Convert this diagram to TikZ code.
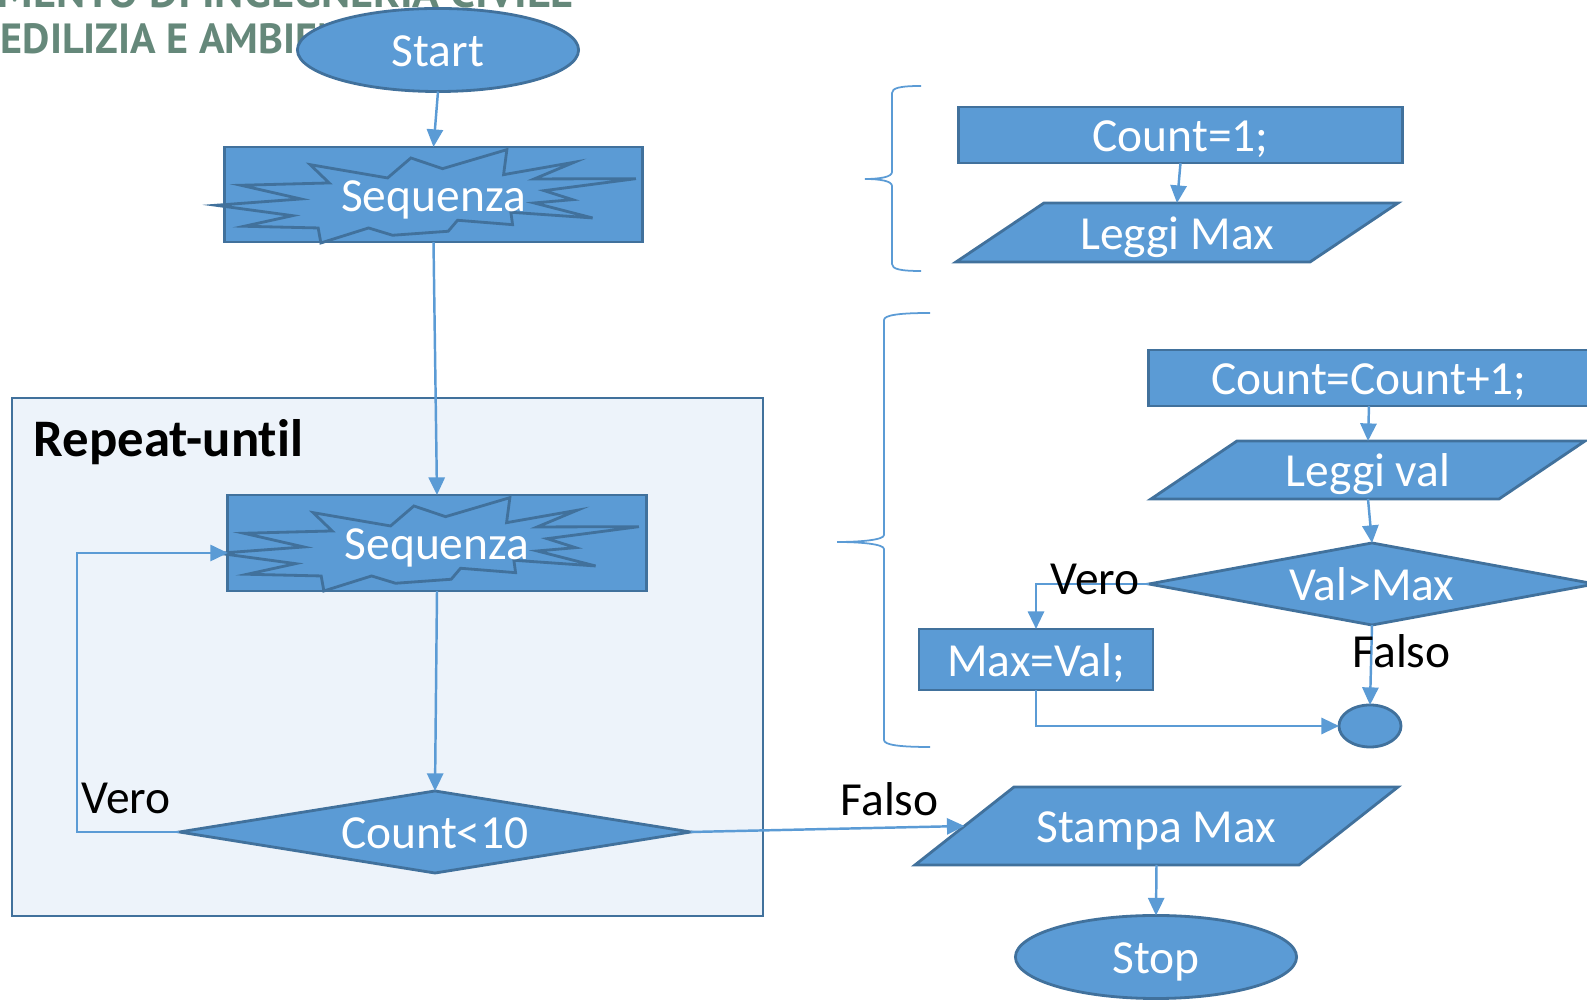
\documentclass[tikz,border=0pt]{standalone}
\usepackage{fontspec}
\setmainfont{Carlito}[Ligatures=NoCommon]
\newfontfamily\headfont{PT Sans}
\usetikzlibrary{shapes.geometric,arrows.meta}

\definecolor{boxfill}{HTML}{5B9BD5}
\definecolor{boxline}{HTML}{41719C}
\definecolor{wire}{HTML}{5B9BD5}
\definecolor{panelfill}{HTML}{EDF3FA}
\definecolor{headgreen}{HTML}{65887A}

\tikzset{
  nodetext/.style={inner sep=0pt, outer sep=0pt, text=white, font=\fontsize{13.5}{16}\selectfont,
    text height=10.9pt, text depth=1.45pt},
  shapebase/.style={nodetext, fill=boxfill, draw=boxline, line width=0.8pt},
  box/.style={shapebase, rectangle},
  terminal/.style={shapebase, ellipse},
  decision/.style={shapebase, diamond, aspect=6},
  parashape/.style={fill=boxfill, draw=boxline, line width=0.8pt, line join=miter},
  burst/.style={fill=boxfill, draw=boxline, line width=0.8pt, line join=miter},
  flow/.style={draw=wire, line width=0.7pt, -{Triangle[length=5pt,width=4.6pt]}},
  brace/.style={draw=wire, line width=0.5pt},
  panel/.style={rectangle, fill=panelfill, draw=boxline, line width=0.7pt, inner sep=0pt, outer sep=0pt},
  lbl/.style={anchor=base west, inner sep=0pt, text=black, font=\fontsize{13.5}{16}\selectfont},
  ttl/.style={anchor=base west, inner sep=0pt, text=black, font=\fontsize{15}{18}\selectfont\bfseries},
  head/.style={inner sep=0pt, text=headgreen, font=\headfont\bfseries\fontsize{12}{14}\selectfont},
}

% starburst drawn inside a "Sequenza" block, relative to its top-left corner
\newcommand\drawburst[1]{%
  \begin{scope}[shift={(#1.north west)}]
    \draw[burst] (-9,58.3) -- (76,52) -- (16,38.3) -- (104.3,36) -- (85.3,17.7)
      -- (162.7,31) -- (186,11) -- (217.7,21.7) -- (282,2.7) -- (278.7,27.7)
      -- (349.3,15.3) -- (309.3,32) -- (411,31.7) -- (319.3,43.7) -- (347.7,52.7)
      -- (309.3,56) -- (367.7,71) -- (286,65.3) -- (287.7,77.7) -- (232.7,73.3)
      -- (223.3,84.3) -- (167.7,88.3) -- (143.7,81) -- (96,96) -- (93.3,81)
      -- (19.3,79.3) -- (67.7,68.7) -- cycle;
  \end{scope}}

% input/output parallelogram: name, centre x, centre y, side length, height, slant, text
% the named node is the mid-height rectangle, so its west/east anchors sit on the slanted sides
\newcommand\parabox[7]{%
  \draw[parashape] ({#2-#4/2-#6/2},{#3+#5/2}) -- ({#2+#4/2-#6/2},{#3+#5/2})
    -- ({#2+#4/2+#6/2},{#3-#5/2}) -- ({#2-#4/2+#6/2},{#3-#5/2}) -- cycle;
  \node[nodetext, rectangle, minimum width={#4*0.01cm}, minimum height={#5*0.01cm}] (#1) at (#2,#3) {#7};}

\begin{document}
\begin{tikzpicture}[x=0.01cm, y=-0.01cm]
  \useasboundingbox (0,0) rectangle (1587,1001);
  \clip (0,0) rectangle (1587,1001);

  % department heading
  \node[head, anchor=base east] (hdrA) at (574,8) {\scalebox{1.05}[1]{DIPARTIMENTO DI INGEGNERIA CIVILE}};
  \node[head, anchor=base west] (hdrB) at (0,54) {\scalebox{1.0}[1]{EDILIZIA E AMBIENTALE}};

  % loop container
  \node[panel, minimum width=7.51cm, minimum height=5.18cm] (loopbox) at (387.5,657) {};
  \node[ttl] (looptitle) at (33,457) {Repeat-until};

  % main flow
  \node[terminal, minimum width=2.81cm, minimum height=0.83cm] (start) at (438,50) {Start};
  \node[box, minimum width=4.17cm, minimum height=0.95cm] (seq1) at (433.5,194.5) {};
  \drawburst{seq1}
  \node[nodetext] (seq1txt) at (seq1.center) {Sequenza};

  \node[box, minimum width=4.18cm, minimum height=0.96cm] (seq2) at (437,543) {};
  \drawburst{seq2}
  \node[nodetext] (seq2txt) at (seq2.center) {Sequenza};

  \node[decision, minimum width=5.11cm, minimum height=0.82cm] (cnt) at (435,832) {Count<10};
  \parabox{stampa}{1156.5}{826}{384}{78}{99}{Stampa Max}
  \node[terminal, minimum width=2.81cm, minimum height=0.83cm] (stop) at (1156,957) {Stop};

  % initialisation detail
  \node[box, minimum width=4.43cm, minimum height=0.56cm] (count1) at (1180.5,135) {Count=1;};
  \parabox{leggimax}{1177}{232.5}{354}{59}{88}{Leggi Max}

  % loop body detail
  \node[box, minimum width=4.40cm, minimum height=0.56cm] (incr) at (1369,378) {Count=Count+1;};
  \parabox{leggival}{1368}{470}{348}{58}{86}{Leggi val}
  \node[decision, minimum width=4.46cm, minimum height=0.82cm] (valmax) at (1372,584) {Val>Max};
  \node[box, minimum width=2.34cm, minimum height=0.61cm] (maxval) at (1036,659.5) {Max=Val;};
  \node[terminal, text height=0pt, text depth=0pt, minimum width=0.62cm, minimum height=0.42cm] (join) at (1370,726) {};

  % braces
  \draw[brace] (921,86) .. controls (900,86) and (892,88) .. (892,93) -- (892,172)
    .. controls (892,177) and (880,179) .. (865,179)
    .. controls (880,179) and (892,181) .. (892,186) -- (892,264)
    .. controls (892,269) and (900,271) .. (921,271);
  \draw[brace] (930,313) .. controls (900,313) and (884,315) .. (884,320) -- (884,535)
    .. controls (884,540) and (860,542) .. (837,542)
    .. controls (860,542) and (884,544) .. (884,549) -- (884,740)
    .. controls (884,745) and (900,747) .. (930,747);

  % connectors
  \coordinate (loopcorner) at (77,553);
  \draw[flow] (start.south) -- (seq1.north);
  \draw[flow] (seq1.south) -- (seq2.north);
  \draw[flow] (seq2.south) -- (cnt.north);
  \draw[flow] (cnt.west) -| (loopcorner) -- (seq2.west |- loopcorner);
  \draw[flow] (cnt.east) -- (stampa.west);
  \draw[flow] (stampa.south) -- (stop.north);
  \draw[flow] (count1.south) -- (leggimax.north);
  \draw[flow] (incr.south) -- (leggival.north);
  \draw[flow] (leggival.south) -- (valmax.north);
  \draw[flow] (valmax.west) -| (maxval.north);
  \draw[flow] (valmax.south) -- (join.north);
  \draw[flow] (maxval.south) |- (join.west);

  % branch labels
  \node[lbl] (vero1) at (81,814) {Vero};
  \node[lbl] (falso1) at (840,816) {Falso};
  \node[lbl] (vero2) at (1050,595) {Vero};
  \node[lbl] (falso2) at (1352,668) {Falso};
\end{tikzpicture}
\end{document}
